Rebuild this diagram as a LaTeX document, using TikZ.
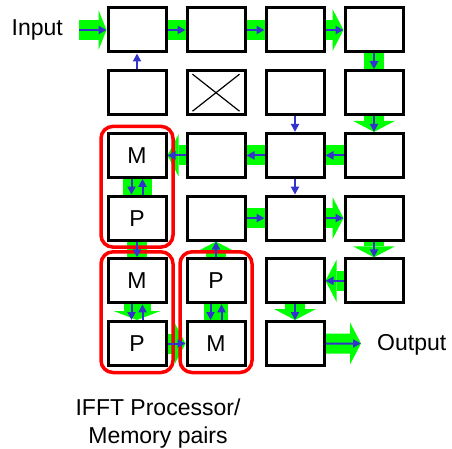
\documentclass[tikz,border=0pt]{standalone}
\usepackage{fontspec}
\setmainfont{Liberation Sans}
\usetikzlibrary{arrows.meta,fit,backgrounds}

\definecolor{flowgreen}{RGB}{0,255,0}
\definecolor{sigblue}{RGB}{51,51,204}
\definecolor{pairred}{RGB}{255,0,0}

\tikzset{
  blk/.style={draw, line width=3pt, fill=white, minimum width=58pt, minimum height=44pt, inner sep=0pt},
  lbl/.style={font=\fontsize{23}{28}\selectfont},
  band/.style={flowgreen, line width=20pt},
  flow/.style={band, -{Triangle[length=11pt,width=42pt,line width=0pt]}},
  sig/.style={sigblue, line width=2pt, -{Triangle[length=8pt,width=8pt]}},
  pair/.style={draw=pairred, line width=3.5pt, rounded corners=12pt, inner sep=5.5pt},
}

\begin{document}
\begin{tikzpicture}[x=1pt,y=-1pt]
  \useasboundingbox (0,0) rectangle (452,449);
  % grid of blocks, b<row><col>; last row has three
  \foreach \r in {1,...,5}
    \foreach \c in {1,...,4}
      \node[blk] (b\r\c) at ({137+79*(\c-1)},{30+62.7*(\r-1)}) {};
  \foreach \c in {1,...,3}
    \node[blk] (b6\c) at ({137+79*(\c-1)},{30+62.7*5}) {};

  \node[lbl] (m31) at (b31) {M};
  \node[lbl] (p41) at (b41) {P};
  \node[lbl] (m51) at (b51) {M};
  \node[lbl] (p61) at (b61) {P};
  \node[lbl] (p52) at (b52) {P};
  \node[lbl] (m62) at (b62) {M};

  % crossed-out block
  \draw[line width=1.2pt] ([shift={(7,5)}]b22.north west) -- ([shift={(-7,-5)}]b22.south east);
  \draw[line width=1.2pt] ([shift={(-7,5)}]b22.north east) -- ([shift={(7,-5)}]b22.south west);

  \coordinate (in) at (79,30);
  \coordinate (out) at (361,343.5);

  \node[lbl, anchor=base east, inner sep=0pt] (inlbl) at (63,36) {Input};
  \node[lbl, anchor=base west, inner sep=0pt] (outlbl) at (377,350) {Output};
  \node[lbl, align=center, anchor=base, inner sep=0pt] (pairlbl) at (158,443) {IFFT Processor/\\Memory pairs};

  % green data path, under the blocks
  \begin{scope}[on background layer]
    \draw[flow, -{Triangle[length=8pt,width=40pt,line width=0pt]}] (in) -- (b11.west);
    \draw[band] (b11) -- (b12);
    \draw[band] (b12) -- (b13);
    \draw[flow] (b13.center) -- (b14.west);
    \draw[band] (b14) -- (b24);
    \draw[flow] (b24.center) -- (b34.north);
    \draw[band] (b34) -- (b33);
    \draw[band] (b33) -- (b32);
    \draw[flow] (b32.center) -- (b31.east);
    \draw[band, line width=29pt] (b31) -- (b41);
    \draw[band] (b42) -- (b43);
    \draw[flow] (b43.center) -- (b44.west);
    \draw[flow] (b44.center) -- (b54.north);
    \draw[band] (b41) -- (b51);
    \draw[flow] (b52.center) -- (b42.south);
    \draw[flow] (b54.center) -- (b53.east);
    \draw[flow, line width=27pt, -{Triangle[length=9pt,width=47pt,line width=0pt]}] (b51.center) -- (b61.north);
    \draw[band, line width=24pt] (b52) -- (b62);
    \draw[flow] (b53.center) -- (b63.north);
    \draw[flow] (b61.center) -- (b62.west);
    \draw[flow] (b63.center) -- (out);
  \end{scope}

  % processor/memory pairs
  \node[pair, fit=(b31)(b41)] (pr1) {};
  \node[pair, fit=(b51)(b61)] (pr2) {};
  \node[pair, fit=(b52)(b62)] (pr3) {};

  % blue signal arrows
  \draw[sig] (in) -- (b11);
  \draw[sig] (b11) -- (b12);
  \draw[sig] (b12) -- (b13);
  \draw[sig] (b13) -- (b14);
  \draw[sig] (b14) -- (b24);
  \draw[sig] (b21) -- (b11);
  \draw[sig] (b23) -- (b33);
  \draw[sig] (b24) -- (b34);
  \draw[sig] (b34) -- (b33);
  \draw[sig] (b33) -- (b32);
  \draw[sig] (b32) -- (b31);
  \draw[sig] ([xshift=-5.5pt]b31.south) -- ([xshift=-5.5pt]b41.north);
  \draw[sig] ([xshift=5.5pt]b41.north) -- ([xshift=5.5pt]b31.south);
  \draw[sig] (b33) -- (b43);
  \draw[sig] (b42) -- (b43);
  \draw[sig] (b43) -- (b44);
  \draw[sig] (b44) -- (b54);
  \draw[sig] (b41) -- (b51);
  \draw[sig] (b52) -- (b42);
  \draw[sig] (b54) -- (b53);
  \draw[sig] ([xshift=-5.5pt]b51.south) -- ([xshift=-5.5pt]b61.north);
  \draw[sig] ([xshift=5.5pt]b61.north) -- ([xshift=5.5pt]b51.south);
  \draw[sig] ([xshift=-5.5pt]b52.south) -- ([xshift=-5.5pt]b62.north);
  \draw[sig] ([xshift=5.5pt]b62.north) -- ([xshift=5.5pt]b52.south);
  \draw[sig] (b53) -- (b63);
  \draw[sig] (b61) -- (b62);
  \draw[sig] (b63) -- (out);
\end{tikzpicture}
\end{document}
